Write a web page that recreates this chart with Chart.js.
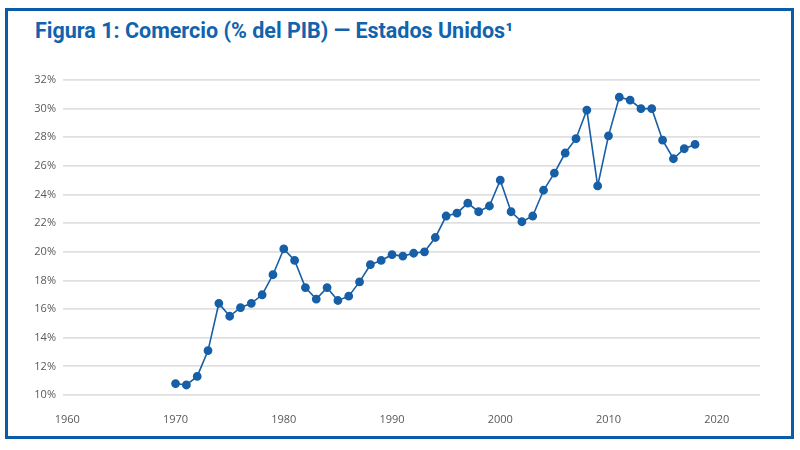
<!DOCTYPE html>
<html>
<head>
<meta charset="utf-8">
<script src="https://cdn.jsdelivr.net/npm/chart.js@4"></script>
<style>
  body { margin: 0; background: #fff; }
  .frame {
    position: absolute; left: 5px; top: 8px; width: 783px; height: 425px;
    border: 3px solid #0b5ba8;
  }
  .title {
    position: absolute; left: 27px; top: 7px; margin: 0;
    font-family: Roboto, sans-serif; font-weight: 700; font-size: 21.5px;
    color: #1263ad; white-space: nowrap;
  }
  .wrap { position: absolute; left: 10px; top: 60px; width: 775px; height: 370px; }
</style>
</head>
<body>
<div class="frame"><h1 class="title">Figura 1: Comercio (% del PIB) — Estados Unidos¹</h1></div>
<div class="wrap"><canvas id="myChart"></canvas></div>
<script>
var years = [1970, 1971, 1972, 1973, 1974, 1975, 1976, 1977, 1978, 1979,
             1980, 1981, 1982, 1983, 1984, 1985, 1986, 1987, 1988, 1989,
             1990, 1991, 1992, 1993, 1994, 1995, 1996, 1997, 1998, 1999,
             2000, 2001, 2002, 2003, 2004, 2005, 2006, 2007, 2008, 2009,
             2010, 2011, 2012, 2013, 2014, 2015, 2016, 2017, 2018];
var trade = [10.8, 10.7, 11.3, 13.1, 16.4, 15.5, 16.1, 16.4, 17.0, 18.4,
             20.2, 19.4, 17.5, 16.7, 17.5, 16.6, 16.9, 17.9, 19.1, 19.4,
             19.8, 19.7, 19.9, 20.0, 21.0, 22.5, 22.7, 23.4, 22.8, 23.2,
             25.0, 22.8, 22.1, 22.5, 24.3, 25.5, 26.9, 27.9, 29.9, 24.6,
             28.1, 30.8, 30.6, 30.0, 30.0, 27.8, 26.5, 27.2, 27.5];
var xTicks = [1960, 1970, 1980, 1990, 2000, 2010, 2020];

var points = years.map(function (y, i) { return { x: y, y: trade[i] }; });

var config = {
  type: 'line',
  data: {
    datasets: [{
      data: points,
      borderColor: '#175fa6',
      backgroundColor: '#175fa6',
      borderWidth: 1.6,
      pointRadius: 3.6,
      pointHoverRadius: 3.6,
      lineTension: 0,
      fill: false
    }]
  },
  options: {
    responsive: true,
    maintainAspectRatio: false,
    animation: false,
    layout: { padding: { top: 20, right: 25, left: 0, bottom: 0 } },
    plugins: {
      legend: { display: false },
      tooltip: { enabled: false }
    },
    scales: {
      x: {
        type: 'linear',
        min: 1959.6,
        max: 2024,
        afterBuildTicks: function (s) {
          s.ticks = xTicks.map(function (v) { return { value: v }; });
        },
        afterFit: function (s) { s.height = 35; },
        grid: { display: false, drawTicks: false },
        border: { display: false },
        ticks: {
          padding: 18,
          color: '#595959',
          font: { family: 'Open Sans', size: 11 },
          maxRotation: 0,
          callback: function (v) { return String(v); }
        }
      },
      y: {
        min: 10,
        max: 32,
        afterFit: function (s) { s.width = 53; },
        grid: { color: '#e0e0e0', lineWidth: 1.8, drawTicks: false },
        border: { display: false },
        ticks: {
          stepSize: 2,
          padding: 7,
          color: '#595959',
          font: { family: 'Open Sans', size: 11 },
          callback: function (v) { return v + '%'; }
        }
      }
    }
  }
};

var myChart = new Chart(document.getElementById('myChart'), config);
</script>
</body>
</html>
